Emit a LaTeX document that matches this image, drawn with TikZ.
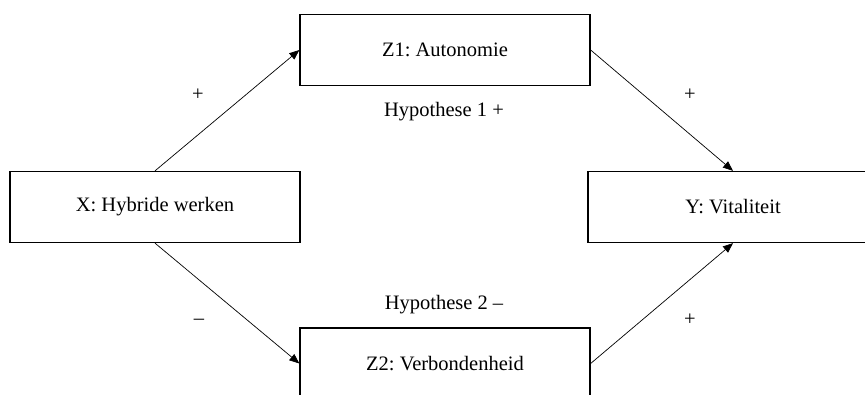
\documentclass[tikz,border=0pt]{standalone}
\usepackage{fontspec}
\setmainfont{Liberation Serif}
\usetikzlibrary{arrows.meta}
\frenchspacing
\begin{document}
\begin{tikzpicture}[x=1pt,y=-1pt,
  varbox/.style={draw, line width=1.3pt, minimum width=290pt, minimum height=71pt, inner sep=0pt, font=\fontsize{20.5}{24}\selectfont},
  conn/.style={line width=0.7pt, -{Triangle[length=10pt,width=8pt]}},
  lbl/.style={inner sep=0pt, font=\fontsize{20.5}{24}\selectfont}]
\clip (0,0) rectangle (865,394);
\fill[white] (0,0) rectangle (865,394);
\node[varbox] (x) at (155,207) {X: Hybride werken};
\node[varbox] (z1) at (445,50) {Z1: Autonomie};
\node[varbox] (y) at (733,207) {Y: Vitaliteit};
\node[varbox] (z2) at (445,363.5) {Z2: Verbondenheid};
\draw[conn] (x.north) -- (z1.west);
\draw[conn] (x.south) -- (z2.west);
\draw[conn] (z1.east) -- (y.north);
\draw[conn] (z2.east) -- (y.south);
\node[lbl] (p1) at (198,95) {+};
\node[lbl] (m1) at (199,322) {–};
\node[lbl] (p2) at (690,95) {+};
\node[lbl] (p3) at (690,320) {+};
\node[lbl] (h1) at (444,112) {Hypothese 1 +};
\node[lbl] (h2) at (444,305) {Hypothese 2 –};
\end{tikzpicture}
\end{document}
